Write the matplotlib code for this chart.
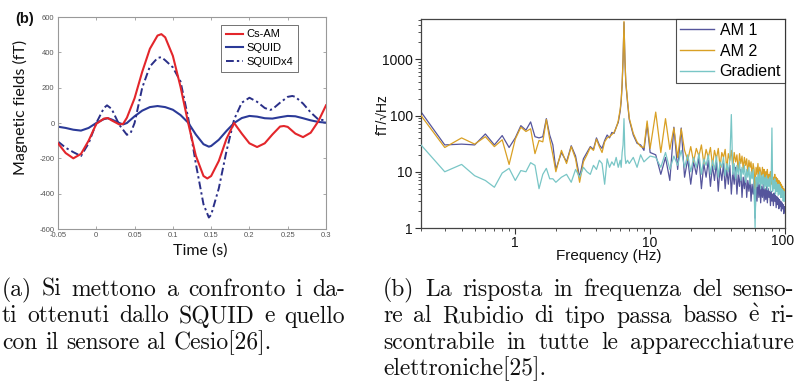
import numpy as np
import matplotlib
matplotlib.use('Agg')
import matplotlib.pyplot as plt
from matplotlib.transforms import IdentityTransform
from matplotlib.ticker import FixedLocator, FixedFormatter, NullFormatter

plt.rcParams['mathtext.fontset'] = 'cm'

# ---------------- data: left panel (time traces) ----------------
cs_t = [-0.05, -0.04, -0.03, -0.02, -0.01, 0.0, 0.01, 0.015, 0.02, 0.03, 0.035, 0.04, 0.05,
        0.06, 0.07, 0.08, 0.085, 0.09, 0.10, 0.11, 0.12, 0.13, 0.14, 0.145, 0.15, 0.16, 0.17,
        0.18, 0.19, 0.20, 0.21, 0.22, 0.23, 0.24, 0.245, 0.25, 0.26, 0.27, 0.28, 0.29, 0.30]
cs_v = [-115, -170, -200, -175, -100, -5, 25, 28, 15, -8, -5, 30, 140,
        290, 420, 495, 503, 485, 380, 205, 0, -185, -300, -314, -300, -215, -90,
        0, -60, -115, -136, -115, -65, -20, -17, -22, -60, -80, -55, 10, 100]

sq_t = [-0.05, -0.04, -0.03, -0.02, -0.01, 0.0, 0.01, 0.015, 0.02, 0.03, 0.035, 0.04, 0.05,
        0.06, 0.07, 0.08, 0.09, 0.10, 0.11, 0.12, 0.13, 0.14, 0.147, 0.15, 0.16, 0.17, 0.18,
        0.19, 0.20, 0.21, 0.22, 0.23, 0.24, 0.25, 0.26, 0.27, 0.28, 0.29, 0.30]
sq_v = [-21, -28, -38, -43, -28, 0, 22, 27, 20, 0, -8, 0, 38,
        70, 90, 96, 90, 75, 45, 2, -65, -120, -134, -130, -95, -45, 0,
        28, 40, 36, 27, 25, 33, 40, 38, 27, 15, 6, 2]

sq4_t = [-0.05, -0.04, -0.03, -0.02, -0.01, 0.0, 0.01, 0.014, 0.02, 0.03, 0.04, 0.045, 0.05,
         0.06, 0.07, 0.08, 0.085, 0.09, 0.10, 0.11, 0.12, 0.13, 0.14, 0.147, 0.15, 0.16, 0.17,
         0.18, 0.19, 0.20, 0.21, 0.22, 0.227, 0.23, 0.24, 0.25, 0.256, 0.26, 0.27, 0.28, 0.29, 0.30]
sq4_v = [-105, -140, -165, -187, -115, 0, 85, 100, 80, -10, -67, -55, 0,
         200, 320, 368, 373, 355, 315, 235, 30, -230, -460, -535, -520, -370, -160,
         20, 115, 143, 120, 85, 74, 78, 115, 148, 153, 148, 110, 60, 20, 15]

xt = [-0.05, 0, 0.05, 0.1, 0.15, 0.2, 0.25, 0.3]
xtl = ['-0.05', '0', '0.05', '0.1', '0.15', '0.2', '0.25', '0.3']
yt = [-600, -400, -200, 0, 200, 400, 600]
ytl = ['-600', '-400', '-200', '0', '200', '400', '600']

# ---------------- data: right panel (spectra) ----------------
freq = [0.2, 0.3, 0.4, 0.5, 0.6, 0.7, 0.8, 0.9, 1.0, 1.1, 1.2, 1.3, 1.4, 1.5, 1.6, 1.7, 1.8, 1.9, 2.0,
        2.2, 2.4, 2.6, 2.8, 3.0, 3.2, 3.4, 3.6, 3.8, 4.0, 4.2, 4.4, 4.6, 4.8, 5.0, 5.2, 5.4, 5.6, 5.8, 6.0,
        6.1, 6.2, 6.3, 6.4, 6.5, 6.6, 6.8,
        7.0, 7.5, 8.0, 8.5, 9.0, 9.5, 10.0,
        11, 12, 13, 14, 15, 16, 17, 18, 19, 20,
        21, 22, 23, 24, 25, 26, 27, 28, 29, 30,
        31, 32, 33, 34, 35, 36, 37, 38, 39, 40,
        41, 42, 43, 44, 45, 46, 47, 48, 49, 50,
        51, 52, 53, 54, 55, 56, 57, 58, 59, 60,
        61, 62, 63, 64, 65, 66, 67, 68, 69, 70,
        71, 72, 73, 74, 75, 76, 77, 78, 79, 80,
        81, 82, 83, 84, 85, 86, 87, 88, 89, 90,
        91, 92, 93, 94, 95, 96, 97, 98, 99, 100]

am1 = [116, 30, 31, 30, 47, 30, 44, 27, 40, 66, 55, 77, 42, 40, 42, 88, 45, 30, 11,
       22, 15, 29, 19, 8, 17, 22, 28, 25, 40, 30, 26, 36, 45, 40, 50, 48, 62, 75, 120,
       180, 350, 1000, 4500, 1000, 380, 170,
       85, 45, 32, 30, 24, 70, 22,
       20, 9, 18, 7, 62, 11, 60, 8, 17, 6,
       15, 9, 18, 5, 14, 8, 16, 5.5, 13, 7,
       15, 4.5, 12, 7, 14, 5, 11, 6, 13, 4,
       10, 6, 12, 4, 9, 5.5, 11, 3.5, 8, 5,
       9, 3.5, 7, 4.5, 8, 3, 6, 4, 7, 1.5,
       6, 3, 7, 3.5, 6, 2.8, 5.5, 3.5, 6, 3,
       5, 3.2, 5.5, 2.8, 5, 3.5, 4.5, 2.5, 4.5, 3,
       4, 2.5, 4.2, 3, 3.8, 2.3, 3.6, 2.6, 3.4, 2.2,
       3.2, 2.4, 3, 2, 2.8, 2.2, 2.6, 1.8, 2.4, 2]

am2 = [100, 27, 40, 31, 42, 28, 37, 13.5, 38, 62, 52, 58, 21, 36, 34, 85, 38, 20, 10,
       24, 14, 28, 17, 6.5, 15, 20, 27, 24, 38, 28, 22, 34, 40, 42, 46, 50, 60, 80, 130,
       190, 370, 1050, 4700, 1050, 400, 180,
       90, 48, 34, 28, 27, 80, 26,
       115, 22, 88, 25, 60, 18, 58, 24, 16, 28,
       15, 26, 19, 30, 14, 25, 18, 27, 13, 24,
       17, 26, 12, 22, 18, 25, 11, 21, 16, 24,
       12, 22, 15, 20, 10, 21, 14, 19, 11, 18,
       13, 17, 9, 16, 12, 15, 8, 14, 11, 5,
       12, 9, 14, 8, 12, 10, 7, 12, 9, 11,
       6.5, 10, 8, 11, 6, 9, 7.5, 10, 6, 9,
       5.5, 8, 7, 9, 5, 8, 6, 7.5, 4.5, 7,
       5.5, 6.5, 4, 6, 5, 5.5, 3.5, 5, 4, 3]

grad = [30, 10, 13.5, 8.5, 7, 5.3, 9.5, 11.5, 7, 10.5, 10, 14.5, 13, 5, 9, 11.5, 7.5, 7.5, 6.5,
        8, 9, 6.5, 11, 8, 12, 10, 9, 13, 11, 16, 14, 6, 17, 12, 15, 13, 18, 12, 16,
        12, 22, 30, 88, 20, 14, 16,
        14, 18, 12, 20, 15, 17, 19,
        18, 12, 22, 11, 19, 13, 24, 12, 20, 10,
        18, 12, 21, 9, 17, 13, 20, 9, 16, 11,
        19, 8, 15, 12, 18, 8.5, 14, 10, 16, 104,
        9, 14, 7.5, 13, 9, 15, 7, 12, 9, 13,
        6.5, 11, 8, 12, 6, 10, 7.5, 11, 5, 1,
        8, 5.5, 9, 6, 10, 5, 8.5, 6, 9, 5,
        8, 5.5, 8.5, 4.8, 7.5, 5.5, 8, 4.5, 7, 60,
        4.5, 7, 5, 7.5, 4, 6.5, 4.5, 6, 3.8, 6,
        4, 5.5, 3.5, 5, 3.5, 4.8, 3, 4.5, 3, 3.5]

freq_ticks = [1, 10, 100]
freq_ticklabels = ['1', '10', '100']
psd_ticks = [1, 10, 100, 1000]
psd_ticklabels = ['1', '10', '100', '1000']

cap_a = ["(a) Si mettono a confronto i da-",
         "ti ottenuti dallo SQUID e quello",
         "con il sensore al Cesio[26]."]
cap_b = ["(b) La risposta in frequenza del senso-",
         "re al Rubidio di tipo passa basso è ri-",
         "scontrabile in tutte le apparecchiature",
         "elettroniche[25]."]

# ---------------- figure ----------------
W, H = 795, 391
fig = plt.figure(figsize=(W / 100, H / 100), dpi=100)


def ax_rect(x0, y0, x1, y1):
    return [x0 / W, 1 - y1 / H, (x1 - x0) / W, (y1 - y0) / H]


# ----- left panel -----
axL = fig.add_axes(ax_rect(58, 17, 326, 229))
axL.plot(sq_t, sq_v, color='#2b3a98', lw=1.5, label='SQUID', zorder=2)
axL.plot(sq4_t, sq4_v, color='#2a2f88', lw=1.4, ls=(0, (4, 1.6, 1.2, 1.6)),
         label='SQUIDx4', zorder=2)
axL.plot(cs_t, cs_v, color='#e3262b', lw=1.5, label='Cs-AM', zorder=3)
axL.set_xlim(-0.05, 0.3)
axL.set_ylim(-600, 600)
axL.xaxis.set_major_locator(FixedLocator(xt))
axL.xaxis.set_major_formatter(FixedFormatter(xtl))
axL.yaxis.set_major_locator(FixedLocator(yt))
axL.yaxis.set_major_formatter(FixedFormatter(ytl))
axL.tick_params(direction='in', top=True, right=True, length=2.5, width=0.6,
                color='#999', labelcolor='#555', labelsize=5.5, pad=2.5)
for lab in axL.get_xticklabels() + axL.get_yticklabels():
    lab.set_family('Liberation Sans')
for s in axL.spines.values():
    s.set_color('#999')
    s.set_linewidth(0.8)
h, l = axL.get_legend_handles_labels()
order = [2, 0, 1]
legL = axL.legend([h[i] for i in order], [l[i] for i in order], loc='upper right',
                  bbox_to_anchor=((298 - 58) / 268, 1 - (25 - 17) / 212), borderaxespad=0,
                  prop={'family': 'Liberation Sans', 'size': 8}, frameon=True,
                  fancybox=False, edgecolor='#333', handlelength=1.6, handletextpad=0.3,
                  labelspacing=0.35, borderpad=0.4)
legL.get_frame().set_linewidth(0.6)

fig.text(20 / W, 1 - 107 / H, 'Magnetic fields (fT)', rotation=90, ha='center', va='center',
         fontsize=11.5, family='Lato', color='#111')
fig.text(200 / W, 1 - 251 / H, 'Time (s)', ha='center', va='center',
         fontsize=11.5, family='Lato', color='#111')
fig.text(25 / W, 1 - 19 / H, '(b)', ha='center', va='center', fontsize=10.5,
         family='Liberation Sans', fontweight='bold', color='#111')

# ----- right panel -----
axR = fig.add_axes(ax_rect(421, 19, 785, 228))
axR.set_xscale('log')
axR.set_yscale('log')
axR.plot(freq, am1, color='#55559c', lw=0.9, label='AM 1', zorder=2)
axR.plot(freq, am2, color='#d9a024', lw=0.9, label='AM 2', zorder=3)
axR.plot(freq, grad, color='#79c6c6', lw=0.9, label='Gradient', zorder=4)
axR.set_xlim(0.2, 100)
axR.set_ylim(1, 5200)
axR.xaxis.set_major_locator(FixedLocator(freq_ticks))
axR.xaxis.set_major_formatter(FixedFormatter(freq_ticklabels[:-1] + ['']))
axR.xaxis.set_minor_locator(FixedLocator([0.2, 0.3, 0.4, 0.5, 0.6, 0.7, 0.8, 0.9,
                                          2, 3, 4, 5, 6, 7, 8, 9,
                                          20, 30, 40, 50, 60, 70, 80, 90]))
axR.xaxis.set_minor_formatter(NullFormatter())
axR.yaxis.set_major_locator(FixedLocator(psd_ticks))
axR.yaxis.set_major_formatter(FixedFormatter(psd_ticklabels))
axR.yaxis.set_minor_locator(FixedLocator([2, 3, 4, 5, 6, 7, 8, 9,
                                          20, 30, 40, 50, 60, 70, 80, 90,
                                          200, 300, 400, 500, 600, 700, 800, 900,
                                          2000, 3000, 4000, 5000]))
axR.yaxis.set_minor_formatter(NullFormatter())
axR.tick_params(which='major', direction='out', length=4, width=0.8, color='#333',
                labelsize=10, pad=2, labelcolor='#111')
axR.tick_params(which='minor', direction='out', length=2, width=0.6, color='#333')
for lab in axR.get_xticklabels() + axR.get_yticklabels():
    lab.set_family('Liberation Sans')
for s in axR.spines.values():
    s.set_color('#444')
    s.set_linewidth(0.9)
# last x tick label kept inside the figure edge
fig.text(794 / W, 1 - 234 / H, freq_ticklabels[-1], ha='right', va='top',
         fontsize=10, family='Liberation Sans', color='#111')
legR = axR.legend(loc='upper right', bbox_to_anchor=(1, 1), borderaxespad=0,
                  prop={'family': 'Liberation Sans', 'size': 11.5}, frameon=True,
                  fancybox=False, edgecolor='#222', handlelength=2.1, handletextpad=0.35,
                  labelspacing=0.35, borderpad=0.25)
legR.get_frame().set_linewidth(0.8)
for line in legR.get_lines():
    line.set_linewidth(1.0)

fig.text(383 / W, 1 - 115 / H, 'fT/√Hz', rotation=90, ha='center', va='center',
         fontsize=10, family=['Liberation Sans', 'DejaVu Sans'], color='#111')
fig.text(609 / W, 1 - 256 / H, 'Frequency (Hz)', ha='center', va='center',
         fontsize=11, family='Liberation Sans', color='#111')

# ----- captions (justified) -----
CAP_FS = 17
CAP_FAM = ['cmr10', 'DejaVu Serif']
renderer = fig.canvas.get_renderer()


def place_line(text, x0, x1, ybase, justify):
    words = text.split(' ')
    objs = []
    for w in words:
        s = r'$\mathrm{\grave{e}}$' if w == 'è' else w
        objs.append(fig.text(0, 0, s, transform=IdentityTransform(), fontsize=CAP_FS,
                             family=CAP_FAM, ha='left', va='baseline', color='#111'))
    widths = [o.get_window_extent(renderer).width for o in objs]
    space = CAP_FS * 100 / 72 * 0.333
    if justify and len(words) > 1:
        gap = max((x1 - x0 - sum(widths)) / (len(words) - 1), 0.6 * space)
    else:
        gap = space
    x = x0
    for o, w in zip(objs, widths):
        o.set_position((x, H - ybase))
        x += w + gap


baselines = [296, 322.5, 349, 375]
for i, line in enumerate(cap_a):
    place_line(line, 2, 345, baselines[i], i < len(cap_a) - 1)
for i, line in enumerate(cap_b):
    place_line(line, 383, 794, baselines[i], i < len(cap_b) - 1)

fig.savefig('out.png', dpi=100)
